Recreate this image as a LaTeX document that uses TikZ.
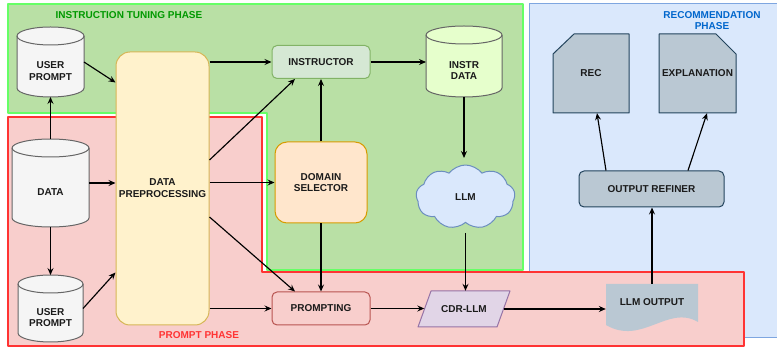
\documentclass[tikz,border=0pt]{standalone}
\usepackage{fontspec}
\setmainfont{Liberation Sans}
\usetikzlibrary{arrows.meta,shapes.symbols,calc}

\definecolor{tunefill}{HTML}{B9E0A5}
\definecolor{tuneline}{HTML}{66FF66}
\definecolor{tunetext}{HTML}{009900}
\definecolor{promptfill}{HTML}{F8CECC}
\definecolor{promptline}{HTML}{FF3333}
\definecolor{prompttext}{HTML}{FF3333}
\definecolor{recfill}{HTML}{DAE8FC}
\definecolor{recline}{HTML}{7EA6E0}
\definecolor{rectext}{HTML}{0066CC}
\definecolor{greyfill}{HTML}{F5F5F5}
\definecolor{greyline}{HTML}{666666}
\definecolor{limefill}{HTML}{E6FFCC}
\definecolor{yellowfill}{HTML}{FFF2CC}
\definecolor{yellowline}{HTML}{D6B656}
\definecolor{greenfill}{HTML}{D5E8D4}
\definecolor{greenline}{HTML}{82B366}
\definecolor{orangefill}{HTML}{FFE6CC}
\definecolor{orangeline}{HTML}{D79B00}
\definecolor{bluefill}{HTML}{DAE8FC}
\definecolor{blueline}{HTML}{6C8EBF}
\definecolor{redfill}{HTML}{F8CECC}
\definecolor{redline}{HTML}{B85450}
\definecolor{purplefill}{HTML}{E1D5E7}
\definecolor{purpleline}{HTML}{9673A6}
\definecolor{slatefill}{HTML}{BAC8D3}
\definecolor{slateline}{HTML}{23445D}
\definecolor{ink}{HTML}{1A1A1A}

% Database drum: #1 name, #2 centre x, #3 top y, #4 half width, #5 bottom y, #6 fill, #7 text
\newcommand\drum[7]{%
  \filldraw[fill=#6, draw=greyline, line width=1pt]
    ({#2-#4},{#3+9}) -- ({#2-#4},{#5-9})
    .. controls ({#2-#4},{#5-4}) and ({#2-0.552*#4},{#5}) .. ({#2},{#5})
    .. controls ({#2+0.552*#4},{#5}) and ({#2+#4},{#5-4}) .. ({#2+#4},{#5-9})
    -- ({#2+#4},{#3+9})
    .. controls ({#2+#4},{#3+4}) and ({#2+0.552*#4},{#3}) .. ({#2},{#3})
    .. controls ({#2-0.552*#4},{#3}) and ({#2-#4},{#3+4}) .. ({#2-#4},{#3+9}) -- cycle;
  \draw[greyline, line width=1pt]
    ({#2-#4},{#3+9})
    .. controls ({#2-#4},{#3+14}) and ({#2-0.552*#4},{#3+18}) .. ({#2},{#3+18})
    .. controls ({#2+0.552*#4},{#3+18}) and ({#2+#4},{#3+14}) .. ({#2+#4},{#3+9});
  \node[drumframe, minimum width={2*#4}, minimum height={#5-#3}] (#1) at ({#2},{(#3+#5)/2}) {};
  \node[nodetext] (#1-text) at ({#2},{(#3+18+#5)/2}) {#7};
}

\begin{document}
\begin{tikzpicture}[
  x=1pt, y=-1pt, line join=round,
  nodetext/.style={font=\bfseries\fontsize{10}{11.8}\selectfont, text=ink, align=center, inner sep=0pt},
  drumframe/.style={inner sep=0pt, outer sep=0pt},
  box/.style={nodetext, draw, line width=1pt, rounded corners=5pt},
  phase/.style={font=\bfseries\fontsize{10}{11.5}\selectfont, align=center, inner sep=0pt},
  conn/.style={draw=black, line width=1.15pt, -{Stealth[length=7pt, width=6pt, inset=2.5pt]}},
]
\fill[white] (0,0) rectangle (777,347);
\useasboundingbox (0,0) rectangle (777,347);

% phase panels
\filldraw[fill=recfill, draw=recline, line width=1pt] (529,4) rectangle (790,338);
\filldraw[fill=tunefill, draw=tuneline, line width=1.3pt]
  (8,4) -- (523,4) -- (523,270) -- (267,270) -- (267,113) -- (8,113) -- cycle;
\filldraw[fill=promptfill, draw=promptline, line width=1.3pt]
  (8,117) -- (262,117) -- (262,272) -- (744,272) -- (744,346) -- (8,346) -- cycle;

\node[phase, text=tunetext] (tune-title) at (129,15.5) {INSTRUCTION TUNING PHASE};
\node[phase, text=rectext] (rec-title) at (712,20.5) {RECOMMENDATION\\PHASE};
\node[phase, text=prompttext] (prompt-title) at (199,335) {PROMPT PHASE};

% data stores
\drum{up1}{50.5}{27}{33.5}{97}{greyfill}{USER\\PROMPT}
\drum{data}{50.5}{139}{38.5}{227}{greyfill}{DATA}
\drum{up2}{50.5}{275}{32.5}{342}{greyfill}{USER\\PROMPT}
\drum{idata}{464}{26}{38}{97}{limefill}{INSTR\\DATA}

% process boxes
\node[box, fill=yellowfill, draw=yellowline, rounded corners=14pt, minimum width=93, minimum height=273] (pre) at (162.5,188.5) {DATA\\PREPROCESSING};
\node[box, fill=greenfill, draw=greenline, minimum width=98, minimum height=33] (instr) at (321,62) {INSTRUCTOR};
\node[box, fill=orangefill, draw=orangeline, rounded corners=12pt, minimum width=92, minimum height=81] (dom) at (321,182.5) {DOMAIN\\SELECTOR};
\node[box, fill=redfill, draw=redline, minimum width=98, minimum height=33] (prm) at (321,308.5) {PROMPTING};
\node[box, fill=slatefill, draw=slateline, minimum width=145, minimum height=36] (ref) at (651.5,189) {OUTPUT REFINER};

% language model cloud
\node[nodetext, cloud, cloud puffs=9, cloud puff arc=105, aspect=1.7, draw=blueline, fill=bluefill, line width=1pt, minimum width=99, minimum height=64] (llm) at (465.5,197) {LLM};
\coordinate (llm-top) at ($(llm.center)+(0,-39)$);
\coordinate (llm-bot) at ($(llm.center)+(0,36)$);

% CDR-LLM parallelogram
\filldraw[fill=purplefill, draw=purpleline, line width=1pt] (431,291) -- (510,291) -- (497,327) -- (418,327) -- cycle;
\node[nodetext, minimum width=79, minimum height=36] (cdr) at (464,309) {CDR-LLM};

% LLM output document
\fill[slatefill] (606,284) -- (698,284) -- (698,322) .. controls (668,304) and (642,346) .. (606,325) -- cycle;
\node[nodetext, minimum width=92, minimum height=36] (out) at (652,302) {LLM OUTPUT};

% result cards
\filldraw[fill=slatefill, draw=slateline, line width=1pt] (574,34) -- (629,34) -- (629,113) -- (553,113) -- (553,54) -- cycle;
\node[nodetext, minimum width=76, minimum height=79] (rec) at (591,73.5) {REC};
\filldraw[fill=slatefill, draw=slateline, line width=1pt] (659,34) -- (716,34) -- (736,54) -- (736,113) -- (659,113) -- cycle;
\node[nodetext, minimum width=77, minimum height=79] (expl) at (697.5,73.5) {EXPLANATION};

% connectors
\draw[conn] (up1.east) -- ([yshift=-31pt]pre.north west);
\draw[conn] (data.north) -- (up1.south);
\draw[conn] (data.south) -- (up2.north);
\draw[conn] (data.east) -- (data.east -| pre.west);
\draw[conn] (up2.east) -- ([yshift=53pt]pre.south west);
\draw[conn] (instr.west -| pre.east) -- (instr.west);
\draw[conn] ([yshift=28.5pt]pre.east) -- ([xshift=-26pt]instr.south);
\draw[conn] (dom.west -| pre.east) -- (dom.west);
\draw[conn] ([yshift=-28.5pt]pre.east) -- ([xshift=-26pt]prm.north);
\draw[conn] (prm.west -| pre.east) -- (prm.west);
\draw[conn] (dom.north) -- (instr.south);
\draw[conn] (dom.south) -- (prm.north);
\draw[conn] (instr.east) -- (instr.east -| idata.west);
\draw[conn] (idata.south) -- (idata.south |- llm-top);
\draw[conn] (llm-bot) -- (llm-bot |- cdr.north);
\draw[conn] (prm.east) -- (prm.east -| cdr.west);
\draw[conn] (cdr.east) -- (cdr.east -| out.west);
\draw[conn] (out.north) -- (out.north |- ref.south);
\draw[conn] ([xshift=-45.5pt]ref.north) -- ([xshift=6pt]rec.south);
\draw[conn] ([xshift=36.5pt]ref.north) -- ([xshift=9.5pt]expl.south);
\end{tikzpicture}
\end{document}
